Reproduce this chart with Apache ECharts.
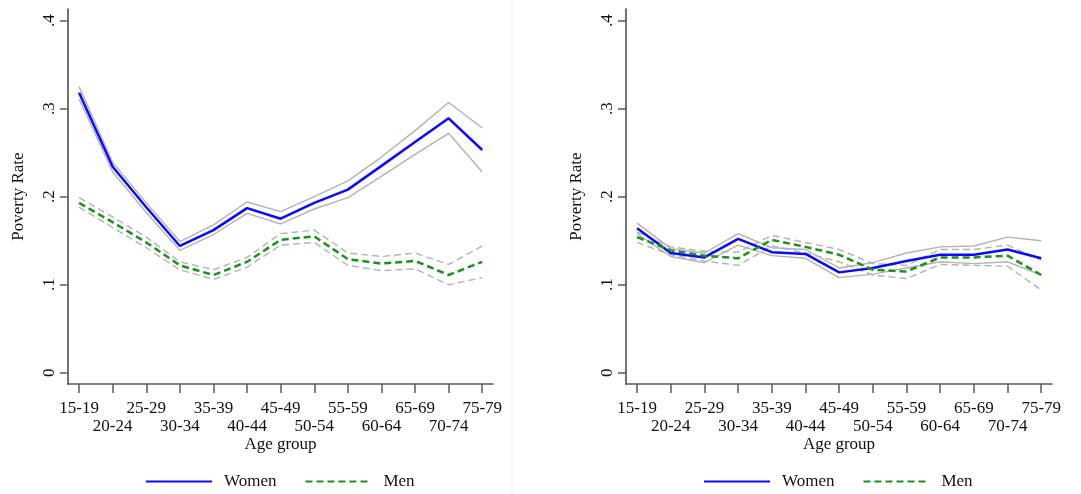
<!DOCTYPE html>
<html>
<head>
<meta charset="utf-8">
<script src="https://cdn.jsdelivr.net/npm/echarts@6/dist/echarts.min.js"></script>
<style>
html,body{margin:0;padding:0;background:#fff;}
#c{width:1081px;height:494px;}
</style>
</head>
<body>
<div id="c"></div>
<script>
// ---- data ----
const categories = ['15-19','20-24','25-29','30-34','35-39','40-44','45-49','50-54','55-59','60-64','65-69','70-74','75-79'];
const yTicks = [0, 0.1, 0.2, 0.3, 0.4];
const yTickLabels = ['0', '.1', '.2', '.3', '.4'];

// Left panel
const womenA   = [0.318, 0.234, 0.188, 0.144, 0.162, 0.187, 0.175, 0.193, 0.208, 0.235, 0.262, 0.289, 0.253];
const womenAHi = [0.325, 0.239, 0.193, 0.149, 0.168, 0.194, 0.183, 0.200, 0.218, 0.245, 0.275, 0.307, 0.278];
const womenALo = [0.311, 0.228, 0.182, 0.139, 0.157, 0.181, 0.169, 0.186, 0.199, 0.223, 0.248, 0.272, 0.228];
const menA     = [0.193, 0.171, 0.148, 0.122, 0.111, 0.126, 0.151, 0.155, 0.129, 0.124, 0.127, 0.111, 0.126];
const menAHi   = [0.199, 0.177, 0.154, 0.126, 0.117, 0.131, 0.158, 0.162, 0.136, 0.132, 0.136, 0.123, 0.144];
const menALo   = [0.188, 0.165, 0.142, 0.117, 0.106, 0.120, 0.145, 0.148, 0.122, 0.116, 0.118, 0.100, 0.108];

// Right panel
const womenB   = [0.164, 0.136, 0.131, 0.152, 0.137, 0.135, 0.114, 0.119, 0.127, 0.134, 0.134, 0.140, 0.130];
const womenBHi = [0.170, 0.141, 0.136, 0.158, 0.142, 0.140, 0.119, 0.125, 0.136, 0.143, 0.144, 0.154, 0.150];
const womenBLo = [0.158, 0.132, 0.125, 0.145, 0.133, 0.130, 0.108, 0.112, 0.119, 0.126, 0.124, 0.126, 0.111];
const menB     = [0.154, 0.139, 0.133, 0.130, 0.151, 0.143, 0.134, 0.117, 0.115, 0.131, 0.131, 0.133, 0.111];
const menBHi   = [0.160, 0.143, 0.138, 0.137, 0.156, 0.148, 0.140, 0.124, 0.122, 0.140, 0.140, 0.145, 0.128];
const menBLo   = [0.148, 0.134, 0.127, 0.122, 0.144, 0.136, 0.126, 0.111, 0.107, 0.123, 0.122, 0.121, 0.094];

// ---- styling ----
const FONT = '"Liberation Serif", "DejaVu Serif", serif';
const AXIS_COLOR = '#5a5a5a';
const BLUE = '#0a0aff';
const GREEN = '#1c921c';
const GRAY = '#b3b3b3';
const evenIdx = categories.map((_, i) => i).filter(i => i % 2 === 0);
const oddIdx = categories.map((_, i) => i).filter(i => i % 2 === 1);

function pairs(arr) { return arr.map((v, i) => [i, v]); }

function xAxisFor(gi, idx, isMain) {
  const ax = {
    type: 'value', gridIndex: gi, min: -0.33, max: 12.32, position: 'bottom',
    axisLine: { show: isMain, onZero: false, lineStyle: { color: AXIS_COLOR, width: 1.7 } },
    axisTick: { show: true, customValues: idx, length: 9, lineStyle: { color: AXIS_COLOR, width: 1.5 } },
    splitLine: { show: false },
    axisLabel: {
      customValues: idx, margin: isMain ? 16 : 34, showMinLabel: true, showMaxLabel: true,
      fontFamily: FONT, fontSize: 17, color: '#111',
      formatter: function (v) { return categories[Math.round(v)]; }
    }
  };
  if (isMain) {
    ax.name = 'Age group';
    ax.nameLocation = 'middle';
    ax.nameGap = 52;
    ax.nameMoveOverlap = false;
    ax.nameTextStyle = { fontFamily: FONT, fontSize: 17, color: '#111' };
  }
  return ax;
}
function yAxisFor(gi) {
  return {
    type: 'value', gridIndex: gi, min: -0.0128, max: 0.4132,
    name: 'Poverty Rate', nameLocation: 'middle', nameGap: 41, nameRotate: 90,
    nameTextStyle: { fontFamily: FONT, fontSize: 17, color: '#111' },
    axisLine: { show: true, onZero: false, lineStyle: { color: AXIS_COLOR, width: 1.7 } },
    axisTick: { show: true, customValues: yTicks, length: 8, lineStyle: { color: AXIS_COLOR, width: 1.5 } },
    splitLine: { show: false },
    axisLabel: {
      customValues: yTicks, rotate: 90, margin: 10,
      fontFamily: FONT, fontSize: 17, color: '#111',
      formatter: function (v) {
        const k = yTicks.findIndex(t => Math.abs(t - v) < 1e-9);
        return k >= 0 ? yTickLabels[k] : '';
      }
    }
  };
}
function ciSeries(xi, yi, arr, dashed) {
  return {
    type: 'line', xAxisIndex: xi, yAxisIndex: yi, data: pairs(arr),
    symbol: 'none', silent: true, z: 2,
    lineStyle: { color: GRAY, width: 1.4, type: dashed ? [7, 4] : 'solid' }
  };
}
function meanSeries(xi, yi, name, arr, color, dashed) {
  return {
    type: 'line', name: name, xAxisIndex: xi, yAxisIndex: yi, data: pairs(arr),
    symbol: 'none', z: 3,
    itemStyle: { color: color },
    lineStyle: { color: color, width: 2.5, type: dashed ? [7, 4] : 'solid' }
  };
}
function legendAt(left) {
  return {
    left: left, top: 473, padding: 0, itemGap: 28, itemWidth: 66, itemHeight: 16,
    selectedMode: false,
    data: ['Women', 'Men'],
    itemStyle: { opacity: 0 },
    textStyle: { fontFamily: FONT, fontSize: 17, color: '#111', padding: [0, 0, 0, 7] }
  };
}

const chart = echarts.init(document.getElementById('c'), null, { renderer: 'canvas' });
chart.setOption({
  animation: false,
  backgroundColor: '#ffffff',
  grid: [
    { left: 68, top: 9, width: 425, height: 375, outerBoundsMode: 'none' },
    { left: 626, top: 9, width: 426, height: 375, outerBoundsMode: 'none' }
  ],
  xAxis: [
    xAxisFor(0, evenIdx, true), xAxisFor(0, oddIdx, false),
    xAxisFor(1, evenIdx, true), xAxisFor(1, oddIdx, false)
  ],
  yAxis: [yAxisFor(0), yAxisFor(1)],
  legend: [legendAt(145), legendAt(703)],
  graphic: [
    { type: 'line', shape: { x1: 512, y1: 0, x2: 512, y2: 494 }, style: { stroke: '#f0f0f0', lineWidth: 1 }, silent: true }
  ],
  series: [
    ciSeries(0, 0, womenAHi, false), ciSeries(0, 0, womenALo, false),
    ciSeries(0, 0, menAHi, true), ciSeries(0, 0, menALo, true),
    meanSeries(0, 0, 'Women', womenA, BLUE, false),
    meanSeries(0, 0, 'Men', menA, GREEN, true),
    ciSeries(2, 1, womenBHi, false), ciSeries(2, 1, womenBLo, false),
    ciSeries(2, 1, menBHi, true), ciSeries(2, 1, menBLo, true),
    meanSeries(2, 1, 'Women', womenB, BLUE, false),
    meanSeries(2, 1, 'Men', menB, GREEN, true)
  ]
});
</script>
</body>
</html>
